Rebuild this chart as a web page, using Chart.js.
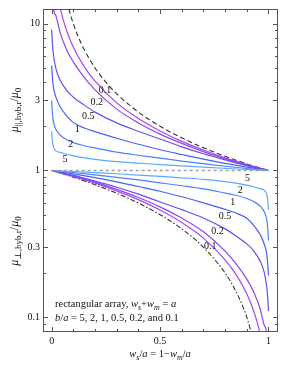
<!DOCTYPE html>
<html>
<head>
<meta charset="utf-8">
<script src="https://cdn.jsdelivr.net/npm/chart.js@4.4.1/dist/chart.umd.min.js"></script>
<style>
  html, body { margin: 0; padding: 0; background: #fff; }
</style>
</head>
<body>
<canvas id="chart" width="281" height="366"></canvas>
<script>
// x values (w_s/a)
const parX  = [0, 0.003, 0.008, 0.02, 0.04, 0.07, 0.1, 0.15, 0.2, 0.3, 0.4, 0.5, 0.6, 0.7, 0.8, 0.9, 1];
const perpX = [0, 0.1, 0.2, 0.3, 0.4, 0.5, 0.6, 0.7, 0.8, 0.85, 0.9, 0.93, 0.96, 0.98, 0.992, 0.997, 1];

// mu_parallel / mu0 for b/a = 5, 2, 1, 0.5, 0.2, 0.1
const par5  = [1.85, 1.6, 1.45, 1.36, 1.33, 1.29, 1.259, 1.22, 1.19, 1.149, 1.122, 1.098, 1.074, 1.053, 1.034, 1.016, 1];
const par2  = [3.0, 2.5, 2.15, 1.9, 1.74, 1.62, 1.55, 1.475, 1.425, 1.335, 1.27, 1.214, 1.16, 1.113, 1.069, 1.032, 1];
const par1  = [5.2, 4.4, 3.7, 3.15, 2.7, 2.35, 2.12, 1.95, 1.84, 1.66, 1.51, 1.385, 1.285, 1.195, 1.118, 1.054, 1];
const par05 = [9.1, 7.5, 6.2, 4.9, 4.1, 3.5, 3.16, 2.79, 2.5, 2.11, 1.85, 1.64, 1.45, 1.3, 1.18, 1.08, 1];
const par02 = [22, 17, 12.8, 11.3, 8.64, 6.61, 5.5, 4.31, 3.54, 2.62, 2.11, 1.77, 1.53, 1.345, 1.2, 1.09, 1];
const par01 = [44, 36, 28, 19, 12.7, 8.9, 6.92, 5.11, 4.06, 2.89, 2.26, 1.86, 1.58, 1.38, 1.22, 1.1, 1];

// mu_perp / mu0
const perp5  = [1, 0.984, 0.967, 0.95, 0.931, 0.911, 0.891, 0.87, 0.84, 0.82, 0.794, 0.775, 0.752, 0.735, 0.69, 0.625, 0.541];
const perp2  = [1, 0.969, 0.935, 0.898, 0.862, 0.824, 0.787, 0.749, 0.702, 0.678, 0.645, 0.617, 0.575, 0.526, 0.465, 0.4, 0.333];
const perp1  = [1, 0.949, 0.894, 0.837, 0.778, 0.722, 0.662, 0.602, 0.543, 0.513, 0.472, 0.426, 0.37, 0.317, 0.27, 0.227, 0.192];
const perp05 = [1, 0.926, 0.847, 0.769, 0.69, 0.61, 0.541, 0.474, 0.4, 0.358, 0.316, 0.286, 0.244, 0.204, 0.161, 0.133, 0.11];
const perp02 = [1, 0.917, 0.833, 0.743, 0.654, 0.565, 0.474, 0.382, 0.282, 0.232, 0.182, 0.151, 0.116, 0.0885, 0.078, 0.059, 0.045];
const perp01 = [1, 0.909, 0.82, 0.725, 0.633, 0.538, 0.442, 0.346, 0.246, 0.196, 0.1445, 0.112, 0.0787, 0.0526, 0.0357, 0.0278, 0.0227];

// limits
const upBoundX  = [0.07, 0.08, 0.09, 0.1, 0.12, 0.15, 0.2, 0.25, 0.3, 0.4, 0.5, 0.6, 0.7, 0.8, 0.9, 1];
const upBound   = [14.3, 12.5, 11.1, 10, 8.33, 6.67, 5, 4, 3.33, 2.5, 2, 1.67, 1.43, 1.25, 1.11, 1];
const lowBoundX = [0, 0.1, 0.2, 0.3, 0.4, 0.5, 0.6, 0.7, 0.8, 0.85, 0.88, 0.9, 0.93];
const lowBound  = [1, 0.9, 0.8, 0.7, 0.6, 0.5, 0.4, 0.3, 0.2, 0.15, 0.12, 0.1, 0.07];
const unityX = [0, 1];
const unityY = [1, 1];

// curve labels
const ratioNames = ["5", "2", "1", "0.5", "0.2", "0.1"];
const parLabelX  = [0.061, 0.088, 0.118, 0.169, 0.208, 0.246];
const parLabelY  = [1.2, 1.5, 1.9, 2.32, 2.92, 3.5];
const perpLabelX = [0.903, 0.87, 0.835, 0.8, 0.765, 0.731];
const perpLabelY = [0.885, 0.735, 0.61, 0.484, 0.384, 0.305];

// ticks
const yLabelTicks = [0.1, 0.3, 1, 3, 10];
const yAllTicks = [0.08, 0.09, 0.1, 0.2, 0.3, 0.4, 0.5, 0.6, 0.7, 0.8, 0.9, 1, 2, 3, 4, 5, 6, 7, 8, 9, 10];
const xLabelTicks = [0, 0.5, 1];
const xAllTicks = [0, 0.1, 0.2, 0.3, 0.4, 0.5, 0.6, 0.7, 0.8, 0.9, 1];

const colors = ["#5ea8ff", "#4a82ff", "#4a62f4", "#6450f2", "#8e46f0", "#ac44f0"];
const SERIF = '"Liberation Serif", "DejaVu Serif", serif';

function pts(xs, ys) {
  return xs.map((x, i) => ({ x: x, y: ys[i] }));
}

const parSeries = [par5, par2, par1, par05, par02, par01];
const perpSeries = [perp5, perp2, perp1, perp05, perp02, perp01];

const datasets = [];
datasets.push({
  data: pts(unityX, unityY), borderColor: "#a0a0a0", borderWidth: 1.3, borderDash: [3, 3]
});
parSeries.forEach((s, i) => {
  datasets.push({ data: pts(parX, s), borderColor: colors[i], borderWidth: 1.2 });
});
perpSeries.forEach((s, i) => {
  datasets.push({ data: pts(perpX, s), borderColor: colors[i], borderWidth: 1.2 });
});
datasets.push({ data: pts(upBoundX, upBound), borderColor: "#333", borderWidth: 1.1, borderDash: [5, 3] });
datasets.push({ data: pts(lowBoundX, lowBound), borderColor: "#333", borderWidth: 1.1, borderDash: [5, 2, 1.5, 2] });

// text with italics / subscripts
function runFont(st, size) {
  const sub = st.indexOf("s") >= 0;
  const it = st.indexOf("i") >= 0;
  return (it ? "italic " : "") + (sub ? Math.round(size * 0.72) : size) + "px " + SERIF;
}
function runsWidth(ctx, runs, size) {
  let w = 0;
  runs.forEach(r => { ctx.font = runFont(r[1], size); w += ctx.measureText(r[0]).width; });
  return w;
}
function drawRuns(ctx, runs, x, y, size, center) {
  let cx = center ? x - runsWidth(ctx, runs, size) / 2 : x;
  ctx.textAlign = "left";
  ctx.textBaseline = "alphabetic";
  runs.forEach(r => {
    ctx.font = runFont(r[1], size);
    const dy = r[1].indexOf("s") >= 0 ? size * 0.28 : 0;
    ctx.fillText(r[0], cx, y + dy);
    cx += ctx.measureText(r[0]).width;
  });
}

const decor = {
  id: "decor",
  afterDatasetsDraw(chart) {
    const { ctx, chartArea: a, scales: { x, y } } = chart;
    ctx.save();
    ctx.fillStyle = "#111";
    ctx.font = "10px " + SERIF;
    ctx.textAlign = "center";
    ctx.textBaseline = "middle";
    ratioNames.forEach((n, i) => {
      ctx.fillText(n, x.getPixelForValue(parLabelX[i]), y.getPixelForValue(parLabelY[i]));
      ctx.fillText(n, x.getPixelForValue(perpLabelX[i]), y.getPixelForValue(perpLabelY[i]));
    });

    // frame and inward ticks
    ctx.strokeStyle = "#555";
    ctx.lineWidth = 1;
    ctx.strokeRect(a.left + 0.5, a.top + 0.5, a.right - a.left - 1, a.bottom - a.top - 1);
    ctx.beginPath();
    xAllTicks.forEach(v => {
      const px = Math.round(x.getPixelForValue(v)) + 0.5;
      const len = xLabelTicks.includes(v) ? 5 : 3;
      ctx.moveTo(px, a.bottom); ctx.lineTo(px, a.bottom - len);
      ctx.moveTo(px, a.top); ctx.lineTo(px, a.top + len);
    });
    yAllTicks.forEach(v => {
      const py = Math.round(y.getPixelForValue(v)) + 0.5;
      const len = yLabelTicks.includes(v) ? 5 : 3;
      ctx.moveTo(a.left, py); ctx.lineTo(a.left + len, py);
      ctx.moveTo(a.right, py); ctx.lineTo(a.right - len, py);
    });
    ctx.stroke();

    // legend text
    ctx.fillStyle = "#111";
    drawRuns(ctx, [["rectangular array, ", ""], ["w", "i"], ["s", "si"], ["+", ""], ["w", "i"], ["m", "si"], [" = ", ""], ["a", "i"]], 55, 307, 10.5, false);
    drawRuns(ctx, [["b", "i"], ["/", ""], ["a", "i"], [" = 5, 2, 1, 0.5, 0.2, and 0.1", ""]], 55, 321, 10.5, false);

    // x title
    drawRuns(ctx, [["w", "i"], ["s", "si"], ["/", ""], ["a", "i"], [" = 1\u2212", ""], ["w", "i"], ["m", "si"], ["/", ""], ["a", "i"]], x.getPixelForValue(0.5), 357, 10.5, true);

    // y titles
    ctx.save();
    ctx.translate(18, 110);
    ctx.rotate(-Math.PI / 2);
    drawRuns(ctx, [["\u03bc", "i"], ["||,hyb,r", "s"], ["/", ""], ["\u03bc", "i"], ["0", "s"]], 0, 0, 12, true);
    ctx.restore();
    ctx.save();
    ctx.translate(18, 241);
    ctx.rotate(-Math.PI / 2);
    drawRuns(ctx, [["\u03bc", "i"], ["\u22a5,hyb,r", "s"], ["/", ""], ["\u03bc", "i"], ["0", "s"]], 0, 0, 12, true);
    ctx.restore();
    ctx.restore();
  }
};

new Chart(document.getElementById("chart"), {
  type: "line",
  data: { datasets: datasets },
  plugins: [decor],
  options: {
    responsive: false,
    animation: false,
    devicePixelRatio: 1,
    layout: { padding: { top: 4, right: 3, left: 0, bottom: 0 } },
    elements: {
      point: { radius: 0 },
      line: { cubicInterpolationMode: "monotone", fill: false }
    },
    plugins: { legend: { display: false }, tooltip: { enabled: false } },
    scales: {
      x: {
        type: "linear", min: -0.04, max: 1.044,
        grid: { display: false, drawTicks: false },
        border: { display: false },
        afterBuildTicks: s => { s.ticks = xLabelTicks.map(v => ({ value: v })); },
        afterFit: s => { s.height = 34; },
        ticks: { autoSkip: false, maxRotation: 0, padding: 3, color: "#111", font: { family: SERIF, size: 10 }, callback: v => String(v) }
      },
      y: {
        type: "logarithmic", min: 0.0793, max: 12.61,
        grid: { display: false, drawTicks: false },
        border: { display: false },
        afterBuildTicks: s => { s.ticks = yLabelTicks.map(v => ({ value: v })); },
        afterFit: s => { s.width = 43; },
        ticks: { autoSkip: false, padding: 3, color: "#111", font: { family: SERIF, size: 10 }, callback: v => String(v) }
      }
    }
  }
});
</script>
</body>
</html>
